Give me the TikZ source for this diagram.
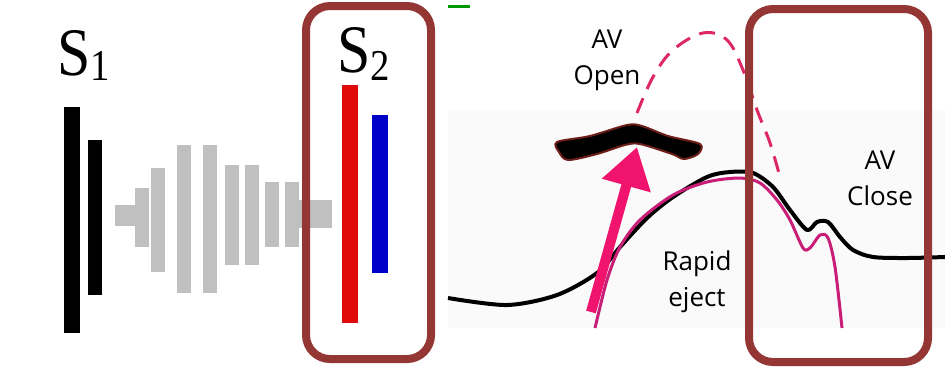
\documentclass[tikz,border=0pt]{standalone}
\usepackage{fontspec}
\setmainfont{Liberation Serif}
\newfontfamily\handfont{Open Sans}
\definecolor{boxred}{RGB}{148, 54, 52}
\definecolor{murmurgray}{RGB}{192, 192, 192}
\definecolor{valvered}{RGB}{225, 10, 10}
\definecolor{valveblue}{RGB}{0, 0, 200}
\definecolor{lvpink}{RGB}{200, 30, 120}
\definecolor{dashpink}{RGB}{222, 40, 100}
\definecolor{arrowpink}{RGB}{240, 20, 110}
\definecolor{smudge}{RGB}{110, 30, 25}
\usetikzlibrary{arrows.meta, positioning}

\tikzset{
  soundbar/.style={line width=#1, line cap=butt},
  murmurbar/.style={soundbar=7pt, murmurgray},
  focusbox/.style={draw=boxred, line width=4pt, rounded corners=12pt},
  handlabel/.style={font=\handfont\fontsize{13}{18}\selectfont, align=center, inner sep=0pt, text=black},
  soundlabel/.style={anchor=base west, inner sep=0pt, xscale=0.88}
}

\begin{document}
\begin{tikzpicture}[x=0.5pt, y=-0.5pt, line join=round]
  \useasboundingbox (0,0) rectangle (945,370);
  \fill[white] (0,0) rectangle (945,370);
  \fill[gray!4] (448,110) rectangle (945,328);
  \fill[green!60!black] (448,5) rectangle (470,8);

  % heart sounds
  \node[soundlabel] (sone) at (57,75) {\fontsize{34}{34}\selectfont S\raisebox{-2.5pt}{\fontsize{22}{22}\selectfont 1}};
  \node[soundlabel] (stwo) at (337,72) {\fontsize{34}{34}\selectfont S\raisebox{-4pt}{\fontsize{22}{22}\selectfont 2}};
  \draw[soundbar=8pt] (72,107) -- (72,333);
  \draw[soundbar=7pt] (95,140) -- (95,295);
  \fill[murmurgray] (115,205) rectangle (140,226);
  \fill[murmurgray] (298,200) rectangle (332,228);
  \foreach \x/\top/\bot in {142/188/247, 158/168/272, 184/145/293, 210/145/293,
                            232/165/265, 252/165/265, 272/182/247, 292/182/247}
    \draw[murmurbar] (\x,\top) -- (\x,\bot);
  \draw[soundbar=8pt, valvered] (350,85) -- (350,323);
  \draw[soundbar=8pt, valveblue] (380,115) -- (380,273);
  \draw[focusbox] (306,6) rectangle (431,359);

  % pressure curves
  \draw[dashpink, line width=1.5pt, dash pattern=on 8pt off 5pt]
    plot[smooth, tension=0.6] coordinates {(637,113) (653,77) (673,50) (703,33) (727,40) (743,70) (757,110) (770,143) (780,177)};
  \draw[black, line width=2pt]
    plot[smooth, tension=0.5] coordinates {(448,298) (507,305) (557,295) (597,273) (620,247) (647,218) (673,197) (707,177) (730,172) (753,173) (773,187) (790,210) (807,230) (817,222) (828,222) (840,237) (853,250) (873,257) (907,258) (945,257)};
  \draw[lvpink, line width=1.5pt]
    plot[smooth, tension=0.5] coordinates {(595,328) (607,280) (620,247) (640,220) (673,195) (707,182) (740,178) (760,183) (777,200) (790,220) (803,248) (810,248) (820,235) (828,238) (835,267) (842,328)};

  % aortic valve leaflets
  \fill[black, draw=smudge, line width=1pt]
    plot[smooth cycle, tension=0.5] coordinates {(557,142) (590,136) (627,125) (642,126) (668,136) (700,144) (698,154) (684,159) (672,154) (640,144) (625,145) (597,154) (568,160) (559,152)};
  \coordinate (shaft) at (591,312);
  \coordinate (tip) at (637,147);
  \draw[arrowpink, line width=5pt, -{Triangle[length=20pt, width=24pt]}] (shaft) -- (tip);
  \draw[focusbox] (749,9) rectangle (928,362);

  \node[handlabel] (avopen) at (607,60) {AV\\Open};
  \node[handlabel] (eject) at (697,282) {Rapid\\eject};
  \node[handlabel] (avclose) at (880,178) {AV\\Close};
\end{tikzpicture}
\end{document}
